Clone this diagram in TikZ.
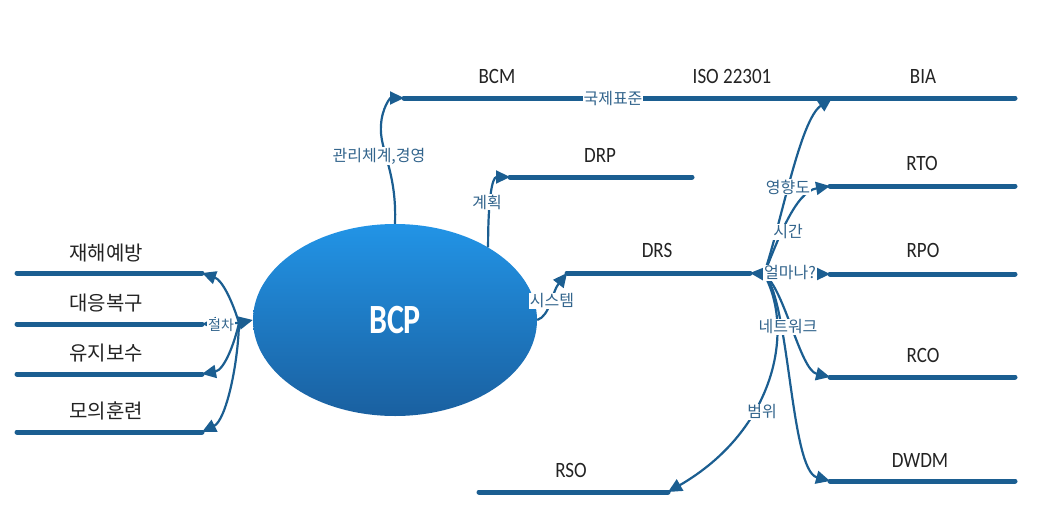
\documentclass[tikz,border=0pt]{standalone}
\usepackage{fontspec}
\setmainfont{Carlito}
\newfontfamily\kr{Noto Sans CJK KR}
\usetikzlibrary{shapes.geometric,arrows.meta}
\definecolor{lineblue}{RGB}{27,94,145}
\definecolor{lblblue}{RGB}{50,100,140}
\definecolor{txt}{RGB}{35,35,35}
\definecolor{ctop}{RGB}{34,148,230}
\definecolor{cbot}{RGB}{26,96,160}
\begin{document}
\begin{tikzpicture}[x=1pt,y=-1pt,
  bar/.style={draw=lineblue,line width=5pt,line cap=round},
  conn/.style={draw=lineblue,line width=2.2pt,-{Triangle[length=14pt,width=13pt]}},
  ttl/.style={text=txt,font=\fontsize{19}{19}\selectfont},
  krttl/.style={text=txt,font=\kr\fontsize{20}{20}\selectfont},
  clbl/.style={text=lblblue,fill=white,inner sep=1pt,font=\kr\fontsize{16}{16}\selectfont}]
\useasboundingbox (0,0) rectangle (1050,522);

% central ellipse
\node[ellipse,minimum width=284pt,minimum height=192pt,inner sep=0pt,
      top color=ctop,bottom color=cbot,text=white,
      font=\bfseries\fontsize{32}{32}\selectfont] (bcp) at (395,320) {\scalebox{1}[1.3]{BCP}};

% line end coordinates
\coordinate (bcmS) at (404,98);   \coordinate (biaE) at (1015,98);
\coordinate (biaS) at (832,98);
\coordinate (drpS) at (510,177);  \coordinate (drpE) at (692,177);
\coordinate (rtoS) at (830,186);  \coordinate (rtoE) at (1015,186);
\coordinate (drsS) at (567,273);  \coordinate (drsE) at (750,273);
\coordinate (rpoS) at (830,274);  \coordinate (rpoE) at (1015,274);
\coordinate (rcoS) at (830,377);  \coordinate (rcoE) at (1015,377);
\coordinate (dwdmS) at (830,481); \coordinate (dwdmE) at (1015,481);
\coordinate (rsoS) at (479,492);  \coordinate (rsoE) at (668,492);
\coordinate (j1S) at (17,273);  \coordinate (j1E) at (202,273);
\coordinate (j2S) at (17,324);  \coordinate (j2E) at (202,324);
\coordinate (j3S) at (17,374);  \coordinate (j3E) at (202,374);
\coordinate (j4S) at (17,432);  \coordinate (j4E) at (202,432);
\coordinate (J) at (764,274);
\coordinate (L) at (239,323);

% bars
\draw[bar] (bcmS) -- (biaE);
\draw[bar] (drpS) -- (drpE);
\draw[bar] (rtoS) -- (rtoE);
\draw[bar] (drsS) -- (drsE);
\draw[bar] (rpoS) -- (rpoE);
\draw[bar] (rcoS) -- (rcoE);
\draw[bar] (dwdmS) -- (dwdmE);
\draw[bar] (rsoS) -- (rsoE);
\draw[bar] (j1S) -- (j1E);
\draw[bar] (j2S) -- (j2E);
\draw[bar] (j3S) -- (j3E);
\draw[bar] (j4S) -- (j4E);

% connectors from BCP
\draw[conn] (bcp.north) .. controls (397,170) and (379,150) .. (381,125) .. controls (382,108) and (390,98) .. (bcmS);
\draw[conn] (bcp.38) .. controls (488,200) and (492,177) .. (drpS);
\draw[conn] (bcp.east) .. controls (550,316) and (552,292) .. (drsS);
\draw[conn] (L) -- (bcp.west);
\draw[conn] (L) .. controls (232,300) and (222,280) .. (j1E);
\draw[conn] (L) -- (j2E);
\draw[conn] (L) .. controls (234,345) and (224,370) .. (j3E);
\draw[conn] (L) .. controls (238,365) and (226,420) .. (j4E);

% connectors from DRS junction
\draw[conn] (J) -- (drsE);
\draw[conn] (J) .. controls (782,220) and (800,120) .. (biaS);
\draw[conn] (J) .. controls (778,240) and (795,192) .. (rtoS);
\draw[conn] (J) -- (rpoS);
\draw[conn] (J) .. controls (785,290) and (800,370) .. (rcoS);
\draw[conn] (J) .. controls (790,300) and (790,470) .. (dwdmS);
\draw[conn] (J) .. controls (795,330) and (775,430) .. (rsoE);

% titles
\node[ttl] (tBCM) at (497,76) {\scalebox{1}[1.15]{BCM}};
\node[ttl] (tISO) at (732,76) {\scalebox{1}[1.15]{ISO 22301}};
\node[ttl] (tBIA) at (923,76) {\scalebox{1}[1.15]{BIA}};
\node[ttl] (tDRP) at (600,155) {\scalebox{1}[1.15]{DRP}};
\node[ttl] (tRTO) at (922,163) {\scalebox{1}[1.15]{RTO}};
\node[ttl] (tDRS) at (657,250) {\scalebox{1}[1.15]{DRS}};
\node[ttl] (tRPO) at (923,250) {\scalebox{1}[1.15]{RPO}};
\node[ttl] (tRCO) at (923,355) {\scalebox{1}[1.15]{RCO}};
\node[ttl] (tDWDM) at (920,460) {\scalebox{1}[1.15]{DWDM}};
\node[ttl] (tRSO) at (571,470) {\scalebox{1}[1.15]{RSO}};
\node[krttl] (t1) at (106,253) {재해예방};
\node[krttl] (t2) at (106,303) {대응복구};
\node[krttl] (t3) at (106,353) {유지보수};
\node[krttl] (t4) at (106,411) {모의훈련};

% connector labels
\node[clbl] (c1) at (613,99) {국제표준};
\node[clbl] (c2) at (379,156) {관리체계,경영};
\node[clbl] (c3) at (487,202) {계획};
\node[clbl] (c4) at (552,301) {시스템};
\node[clbl,font=\kr\fontsize{14}{14}\selectfont] (c5) at (221,325) {절차};
\node[clbl] (c6) at (788,187) {영향도};
\node[clbl] (c7) at (788,232) {시간};
\node[clbl] (c8) at (790,273) {얼마나?};
\node[clbl] (c9) at (788,327) {네트워크};
\node[clbl] (c10) at (762,412) {범위};
\end{tikzpicture}
\end{document}
